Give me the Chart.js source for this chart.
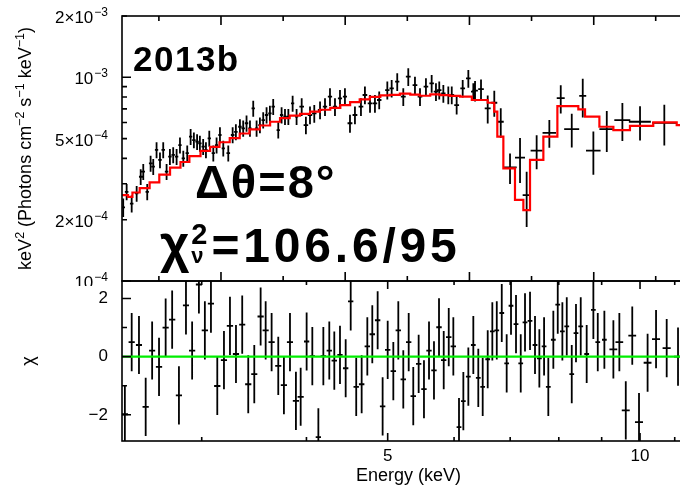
<!DOCTYPE html>
<html><head><meta charset="utf-8">
<script src="https://cdn.jsdelivr.net/npm/chart.js@4/dist/chart.umd.min.js"></script>
<style>
html,body{margin:0;padding:0;overflow:hidden;background:#fff;width:680px;height:489px;}
#wrap{position:relative;width:680px;height:489px;overflow:hidden;}
canvas{position:absolute;left:0;}
</style></head><body>
<div id="wrap">
<canvas id="top" width="700" height="286" style="top:0;width:700px;height:286px"></canvas>
<canvas id="bot" width="700" height="213" style="top:276px;width:700px;height:213px"></canvas>
</div>
<script>
// ---------------- DATA ----------------
const FLUX_UNIT = 1e-4; // flux arrays below are in units of 1e-4 keV^2 (photons cm^-2 s^-1 keV^-1)
const E_MIN = 2.41, E_MAX = 11.63;

// top panel: unfolded spectrum
const topE = [2.418,2.441,2.475,2.509,2.537,2.555,2.583,2.607,2.626,2.650,2.675,2.699,2.724,2.749,2.774,2.800,2.826,2.852,2.883,2.910,2.936,2.962,2.985,3.012,3.035,3.063,3.097,3.125,3.154,3.183,3.227,3.266,3.295,3.332,3.362,3.393,3.425,3.456,3.488,3.520,3.552,3.585,3.618,3.651,3.702,3.736,3.771,3.806,3.851,3.893,
  3.948,3.994,4.039,4.087,4.152,4.209,4.267,4.326,4.386,4.446,4.508,4.570,4.646,4.697,4.763,4.828,4.885,4.995,5.055,5.133,5.219,5.291,5.389,5.464,5.554,5.642,5.709,5.761,5.826,5.906,5.962,6.043,6.144,6.240,6.326,
  6.356,6.461,6.581,6.701,6.821,6.997,7.192,7.324,7.528,7.795,8.043,8.290,8.544,8.797,9.127,9.527,10.00,10.69];
const topDE = [0.012,0.012,0.012,0.012,0.012,0.012,0.012,0.012,0.012,0.012,0.013,0.013,0.013,0.013,0.013,0.013,0.013,0.013,0.013,0.013,0.014,0.014,0.014,0.014,0.014,0.014,0.014,0.014,0.014,0.014,0.016,0.016,0.016,0.016,0.016,0.016,0.016,0.016,0.016,0.016,0.017,0.017,0.017,0.017,0.017,0.017,0.017,0.017,0.017,0.017,
  0.025,0.025,0.025,0.025,0.025,0.025,0.025,0.025,0.025,0.025,0.03,0.03,0.03,0.03,0.03,0.03,0.03,0.03,0.03,0.03,0.035,0.035,0.035,0.035,0.035,0.035,0.035,0.035,0.035,0.035,0.04,0.04,0.04,0.04,0.04,
  0.05,0.05,0.054,0.055,0.056,0.129,0.099,0.08,0.124,0.144,0.088,0.171,0.082,0.176,0.183,0.209,0.302,0.352];
const topFlux = [2.30,2.74,2.40,2.69,3.25,3.44,2.74,3.78,3.64,4.40,3.93,4.40,3.44,4.08,4.16,4.08,4.65,4.00,4.24,5.11,4.92,4.83,4.74,4.57,4.40,5.01,4.24,4.65,5.21,4.48,4.24,5.21,5.40,5.72,5.62,5.95,5.62,7.04,5.62,5.83,6.17,6.53,6.65,7.18,5.51,6.53,6.41,6.41,7.44,6.41,
  7.18,5.83,6.53,6.65,6.91,7.18,8.03,7.18,7.88,8.03,5.95,6.53,7.18,8.19,7.44,7.44,7.74,8.66,8.83,9.52,8.03,10.07,9.15,8.03,9.00,9.34,8.50,8.66,8.34,8.19,8.19,7.30,8.83,9.88,8.50,
  8.60,8.76,7.04,7.50,6.05,3.61,4.03,2.64,4.37,5.34,7.90,5.57,8.10,4.37,5.57,6.17,6.05,5.98];
const topErr = [0.24,0.25,0.23,0.24,0.29,0.31,0.25,0.34,0.33,0.40,0.35,0.40,0.31,0.37,0.37,0.37,0.42,0.36,0.38,0.46,0.44,0.43,0.43,0.41,0.40,0.45,0.38,0.42,0.47,0.40,0.38,0.47,0.49,0.51,0.51,0.54,0.51,0.63,0.51,0.52,0.56,0.59,0.60,0.65,0.50,0.59,0.58,0.58,0.67,0.58,
  0.72,0.58,0.65,0.67,0.69,0.72,0.80,0.72,0.79,0.80,0.60,0.65,0.72,0.82,0.74,0.74,0.77,0.87,0.88,0.95,0.80,1.0,0.92,0.80,0.90,0.93,0.85,0.87,0.83,0.82,0.82,0.73,0.88,0.99,0.85,
  1.0,1.0,1.1,1.1,1.0,0.62,1.0,0.8,0.83,0.83,1.25,1.05,1.75,1.05,1.27,1.3,1.15,1.35];

// model (step function): left edges of each step and its value
const modelEdge = [2.41,2.45,2.48,2.53,2.60,2.67,2.75,2.83,2.90,2.99,3.07,3.15,3.24,3.33,3.42,3.52,3.62,3.72,3.82,3.93,4.04,4.15,4.27,4.39,4.51,4.63,4.76,4.90,5.03,5.17,5.32,5.46,5.62,5.77,5.93,6.10,6.30,6.58,6.70,6.757,6.870,7.093,7.258,7.392,7.668,7.969,8.441,8.598,8.944,9.294,9.727,10.37,11.06,11.63];
const modelFlux = [2.64,2.59,2.72,2.86,3.05,3.33,3.60,3.84,4.10,4.35,4.56,4.80,5.03,5.30,5.55,5.80,6.05,6.30,6.48,6.62,6.78,6.93,7.08,7.30,7.55,7.80,8.02,8.15,8.20,8.32,8.22,8.12,8.25,8.18,8.10,8.03,7.74,7.50,6.78,5.11,3.57,2.50,2.23,3.93,5.11,7.22,6.96,6.41,5.72,5.51,5.77,6.01,5.83];

// bottom panel: residuals (chi)
const resE = [2.429,2.475,2.525,2.572,2.618,2.668,2.717,2.766,2.818,2.873,2.922,2.977,3.026,3.077,3.131,3.189,3.242,3.296,3.353,3.409,3.466,3.527,3.576,3.635,3.702,3.760,3.823,3.886,3.937,4.002,4.065,4.133,4.190,4.259,4.318,4.386,4.455,4.517,4.586,4.655,4.728,4.793,4.864,4.931,5.000,5.078,5.148,5.219,5.297,5.364,5.444,5.524,5.601,5.678,5.757,5.832,5.913,5.988,6.082,6.155,6.240,6.326,6.413,6.491,6.581,6.665,6.747,6.840,6.933,7.016,7.113,7.206,7.291,7.392,7.494,7.584,7.683,7.773,7.881,7.977,8.079,8.177,8.290,8.387,8.497,8.637,8.797,8.904,9.067,9.294,9.448,9.616,9.789,9.972,10.21,10.45,10.76,11.10];
const resDE = [0.021,0.021,0.021,0.022,0.022,0.023,0.023,0.024,0.024,0.024,0.025,0.025,0.026,0.026,0.027,0.027,0.028,0.028,0.028,0.029,0.029,0.030,0.030,0.031,0.031,0.032,0.032,0.033,0.033,
  0.029,0.030,0.030,0.031,0.031,0.032,0.032,0.033,0.033,0.034,0.035,0.035,0.036,0.036,0.037,0.037,0.038,0.038,0.039,0.039,0.040,0.040,0.041,0.041,0.042,0.043,0.043,0.044,0.044,
  0.040,0.040,0.041,0.041,0.042,0.042,0.043,0.043,0.044,0.045,0.045,0.046,0.047,0.047,0.048,0.048,0.049,0.050,0.050,0.051,0.052,0.052,0.053,0.054,0.054,0.055,0.056,0.057,0.057,0.058,0.059,
  0.10,0.10,0.105,0.105,0.11,0.11,0.115,0.12,0.12];
const resChi = [-1.98,0.5,0.40,-1.73,0.21,-0.35,1.0,1.27,-1.33,1.76,0.21,2.48,0.9,1.82,-1.01,-0.12,1.06,0.09,1.1,-0.95,-0.6,1.38,0.9,0.5,-0.32,-0.98,0.5,-1.52,-1.38,0.52,0.02,-2.77,0.02,0.21,-0.14,0.06,-0.4,1.9,-1.04,-0.95,0.35,0.77,1.25,-1.71,0.23,-0.5,0.9,-0.78,0.5,-1.36,-0.25,-1.12,0.21,-0.47,1.01,-0.12,0.67,0.35,-2.42,-1.53,-0.69,0.4,-0.73,-1.04,-0.09,0.87,0.9,1.5,-0.23,1.75,1.12,-0.23,1.18,1.23,0.4,-0.06,0.35,-1.04,0.58,1.79,0.87,1.04,-0.6,0.81,1.04,0.09,1.61,0.5,0.58,0.25,0.5,-1.85,0.72,-2.25,-0.21,0.6,0.29,0.0];
const resErr = 1; // residual error bars are +/-1 sigma

// axis ticks and labels
const yTopTickVals = [1e-4,2e-4,5e-4,1e-3,2e-3];
const yTopTickMant = ['10','2×10','5×10','10','2×10'];
const yTopTickExp  = ['−4','−4','−4','−3','−3'];
const yTopMinor = [3e-4,4e-4,6e-4,7e-4,8e-4,9e-4];
const yTopTitle = [['keV',0],['2',1],[' (Photons cm',0],['−2',1],[' s',0],['−1',1],[' keV',0],['−1',1],[')',0]];
const topAxisTickE = [2.667,3.163,3.752,4.449,5.277,6.259,7.423,8.806,10.44];
const topAxisTickMajor = [0,1,0,1,0,1,0,1,0];
const resTickVals = [-2,0,2];
const resTickLabels = ['−2','0','2'];
const resMinor = [-1,1];
const eTickVals = [5,10];
const eTickLabels = ['5','10'];
const eMinor = [3,4,6,7,8,9,11];

const FONT = '"Liberation Sans", Arial, Helvetica, sans-serif';

// ---------------- helpers ----------------
function crossPoints(xc, dx, yc, eLo, eHi){
  const pts=[];
  for(let i=0;i<xc.length;i++){
    pts.push({x:xc[i]-dx[i],y:yc[i]},{x:xc[i]+dx[i],y:yc[i]},{x:xc[i],y:null},
             {x:xc[i],y:yc[i]-eLo[i]},{x:xc[i],y:yc[i]+eHi[i]},{x:xc[i],y:null});
  }
  return pts;
}

const framePlugin = {
  id:'frameTicks',
  afterDraw(chart, args, o){
    const {ctx, chartArea:{left,right,top,bottom}} = chart;
    const xs = chart.scales.x, ys = chart.scales.y;
    ctx.save();
    ctx.strokeStyle='#000'; ctx.lineWidth=1.6; ctx.lineCap='butt';
    ctx.strokeRect(left,top,right-left,bottom-top);
    ctx.beginPath();
    (o.xTicks||[]).forEach(t=>{
      const px = xs.getPixelForValue(t.v);
      ctx.moveTo(px,bottom); ctx.lineTo(px,bottom-t.len);
      ctx.moveTo(px,top); ctx.lineTo(px,top+t.len);
    });
    (o.yTicks||[]).forEach(t=>{
      const py = ys.getPixelForValue(t.v);
      ctx.moveTo(left,py); ctx.lineTo(left+t.len,py);
      ctx.moveTo(right,py); ctx.lineTo(right-t.len,py);
    });
    ctx.stroke();
    ctx.restore();
  }
};

// top-panel axis labels with real superscripts, and the rotated y title
const topLabelsPlugin = {
  id:'topLabels',
  afterDraw(chart){
    const ctx = chart.ctx, ys = chart.scales.y, ca = chart.chartArea;
    const MS = 17, XS = 12;
    ctx.save(); ctx.fillStyle='#000'; ctx.textBaseline='alphabetic'; ctx.textAlign='left';
    yTopTickVals.forEach((v,i)=>{
      const py = ys.getPixelForValue(v);
      ctx.font = XS+'px '+FONT; const we = ctx.measureText(yTopTickExp[i]).width;
      ctx.font = MS+'px '+FONT; const wm = ctx.measureText(yTopTickMant[i]).width;
      const xr = 108, base = py + 7;
      ctx.fillText(yTopTickMant[i], xr - we - wm - 1, base);
      ctx.font = XS+'px '+FONT; ctx.fillText(yTopTickExp[i], xr - we, base - 7);
    });
    // rotated title
    const TS = 18, TX = 12.5;
    let total = 0;
    yTopTitle.forEach(([t,s])=>{ ctx.font = (s?TX:TS)+'px '+FONT; total += ctx.measureText(t).width; });
    const cy = (ca.top+ca.bottom)/2;
    ctx.translate(31, cy); ctx.rotate(-Math.PI/2);
    let x = -total/2;
    yTopTitle.forEach(([t,s])=>{
      ctx.font = (s?TX:TS)+'px '+FONT;
      ctx.fillText(t, x, s ? -7 : 0);
      x += ctx.measureText(t).width;
    });
    ctx.restore();
  }
};

const annotPlugin = {
  id:'annot',
  afterDraw(chart){
    const ctx = chart.ctx;
    ctx.save();
    ctx.fillStyle='#000'; ctx.textBaseline='alphabetic'; ctx.textAlign='left';
    ctx.letterSpacing = '1.5px';
    ctx.font = 'bold 35px '+FONT; ctx.fillText('2013b',133,71);
    ctx.letterSpacing = '2px';
    ctx.font = 'bold 47px '+FONT; ctx.fillText('Δθ=8°',195,198);
    let x = 160; const base = 262;
    ctx.letterSpacing = '0px';
    ctx.font = 'bold 51px '+FONT; ctx.fillText('χ',x,base); x += ctx.measureText('χ').width;
    ctx.font = 'bold 29px '+FONT; ctx.fillText('2',x+2,base-18); const w2 = ctx.measureText('2').width;
    ctx.font = 'bold 22px '+FONT; ctx.fillText('ν',x+2,base+1); const wv = ctx.measureText('ν').width;
    x += Math.max(w2,wv)+6;
    ctx.letterSpacing = '3.8px';
    ctx.font = 'bold 48px '+FONT; ctx.fillText('=106.6/95',x,base);
    ctx.restore();
  }
};

// ---------------- TOP CHART ----------------
const modelPts = modelEdge.map((e,i)=>({x:e, y:modelFlux[Math.min(i,modelFlux.length-1)]*FLUX_UNIT}));
const specPts = crossPoints(topE, topDE, topFlux.map(v=>v*FLUX_UNIT), topErr.map(v=>v*FLUX_UNIT), topErr.map(v=>v*FLUX_UNIT));

const yTopTickObjs = yTopTickVals.map(v=>({v, len: (v===1e-3||v===1e-4)?9:5}))
  .concat(yTopMinor.map(v=>({v,len:5})));

new Chart(document.getElementById('top'), {
  type:'line',
  data:{datasets:[
    {data:modelPts, borderColor:'#ff0000', borderWidth:2.2, stepped:'before', pointRadius:0, fill:false},
    {data:specPts, borderColor:'#000', borderWidth:1.8, pointRadius:0, fill:false, spanGaps:false}
  ]},
  options:{
    responsive:false, animation:false, events:[], devicePixelRatio:1,
    layout:{autoPadding:false, padding:{top:16,right:5,bottom:5,left:0}},
    plugins:{legend:{display:false}, tooltip:{enabled:false},
      frameTicks:{
        xTicks: topAxisTickE.map((v,i)=>({v, len: topAxisTickMajor[i]?9:5})),
        yTicks: yTopTickObjs
      }},
    scales:{
      x:{type:'logarithmic', min:E_MIN, max:E_MAX, display:false},
      y:{type:'logarithmic', min:1e-4, max:2e-3, position:'left',
        afterFit(s){ s.width=122; s.paddingTop=0; s.paddingBottom=0; },
        ticks:{ display:false },
        grid:{display:false, drawTicks:false}, border:{display:false},
        title:{display:false}
      }
    }
  },
  plugins:[framePlugin, topLabelsPlugin, annotPlugin]
});

// ---------------- BOTTOM CHART ----------------
const resPts = crossPoints(resE, resDE, resChi, resE.map(()=>resErr), resE.map(()=>resErr));
new Chart(document.getElementById('bot'), {
  type:'line',
  data:{datasets:[
    {data:[{x:E_MIN,y:0},{x:E_MAX,y:0}], borderColor:'#00ee00', borderWidth:2.2, pointRadius:0, fill:false},
    {data:resPts, borderColor:'#000', borderWidth:1.8, pointRadius:0, fill:false, spanGaps:false}
  ]},
  options:{
    responsive:false, animation:false, events:[], devicePixelRatio:1,
    layout:{autoPadding:false, padding:{top:5,right:5,bottom:0,left:0}},
    plugins:{legend:{display:false}, tooltip:{enabled:false},
      frameTicks:{
        xTicks: eTickVals.map(v=>({v,len:8})).concat(eMinor.map(v=>({v,len:4}))),
        yTicks: resTickVals.map(v=>({v,len:9})).concat(resMinor.map(v=>({v,len:5})))
      }},
    scales:{
      x:{type:'logarithmic', min:E_MIN, max:E_MAX, position:'bottom',
        afterFit(s){ s.height=48; s.paddingLeft=0; s.paddingRight=0; },
        afterBuildTicks(s){ s.ticks = eTickVals.map(v=>({value:v})); },
        ticks:{ callback:(v,i)=>eTickLabels[i], font:{family:FONT,size:17}, color:'#000', padding:5, autoSkip:false, maxRotation:0 },
        grid:{display:false, drawTicks:false}, border:{display:false},
        title:{display:true, text:'Energy (keV)', font:{family:FONT,size:18,lineHeight:1}, color:'#000', padding:{top:0,bottom:4}}
      },
      y:{type:'linear', min:-2.9, max:2.6, position:'left',
        afterFit(s){ s.width=122; s.paddingTop=0; s.paddingBottom=0; },
        afterBuildTicks(s){ s.ticks = resTickVals.map(v=>({value:v})); },
        ticks:{ callback:(v,i)=>resTickLabels[i], font:{family:FONT,size:17}, color:'#000', padding:14, autoSkip:false },
        grid:{display:false, drawTicks:false}, border:{display:false},
        title:{display:true, text:'χ', font:{family:FONT,size:18,lineHeight:1}, color:'#000', padding:{top:20,bottom:0}}
      }
    }
  },
  plugins:[framePlugin]
});
</script>
</body></html>
